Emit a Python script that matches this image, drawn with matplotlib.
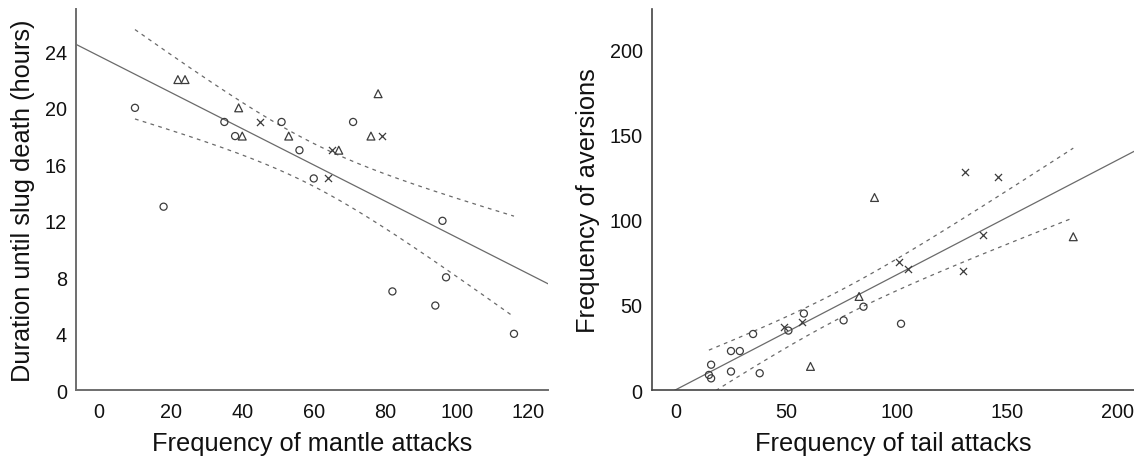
import math
import numpy as np
import matplotlib
matplotlib.use("Agg")
import matplotlib.pyplot as plt

plt.rcParams['font.family'] = ['Liberation Sans', 'DejaVu Sans']

# ---------------- data: left panel ----------------
mantle_circle_x = [10, 18, 35, 38, 51, 56, 60, 71, 96, 97, 82, 94, 116]
mantle_circle_y = [20, 13, 19, 18, 19, 17, 15, 19, 12, 8, 7, 6, 4]
mantle_tri_x = [22, 24, 39, 40, 53, 67, 78, 76]
mantle_tri_y = [22, 22, 20, 18, 18, 17, 21, 18]
mantle_cross_x = [45, 65, 64, 79]
mantle_cross_y = [19, 17, 15, 18]

# ---------------- data: right panel ----------------
tail_circle_x = [16, 15, 16, 25, 29, 25, 35, 38, 51, 58, 76, 85, 102]
tail_circle_y = [15, 9, 7, 23, 23, 11, 33, 10, 35, 45, 41, 49, 39]
tail_tri_x = [61, 83, 180, 90]
tail_tri_y = [14, 55, 90, 113]
tail_cross_x = [49, 57, 101, 105, 130, 139, 131, 146]
tail_cross_y = [37, 40, 75, 71, 70, 91, 128, 125]

left_xticks = [0, 20, 40, 60, 80, 100, 120]
left_yticks = [0, 4, 8, 12, 16, 20, 24]
right_xticks = [0, 50, 100, 150, 200]
right_yticks = [0, 50, 100, 150, 200]

left_xlabel = "Frequency of mantle attacks"
left_ylabel = "Duration until slug death (hours)"
right_xlabel = "Frequency of tail attacks"
right_ylabel = "Frequency of aversions"


def t_quantile(p, df):
    # numeric inverse of the Student t CDF
    c = math.exp(math.lgamma((df + 1) / 2) - math.lgamma(df / 2)) / math.sqrt(df * math.pi)
    grid = np.linspace(0, 10, 200001)
    pdf = c * (1 + grid ** 2 / df) ** (-(df + 1) / 2)
    cdf = 0.5 + np.concatenate([[0], np.cumsum((pdf[1:] + pdf[:-1]) / 2 * np.diff(grid))])
    return float(np.interp(p, cdf, grid))


MK = '#3c3c3c'
LINE = '#6a6a6a'


def panel(ax, groups, xlim, ylim, xticks, yticks, xlabel, ylabel, spine_col, spine_lw):
    xs = np.concatenate([np.asarray(g[0], float) for g in groups])
    ys = np.concatenate([np.asarray(g[1], float) for g in groups])
    n = len(xs)
    slope, icpt = np.polyfit(xs, ys, 1)
    resid = ys - (slope * xs + icpt)
    s = math.sqrt(np.sum(resid ** 2) / (n - 2))
    sxx = np.sum((xs - xs.mean()) ** 2)
    t = t_quantile(0.975, n - 2)

    xl = np.linspace(xlim[0], xlim[1], 200)
    ax.plot(xl, slope * xl + icpt, color=LINE, lw=0.9, zorder=2)
    xc = np.linspace(xs.min(), xs.max(), 200)
    half = t * s * np.sqrt(1 / n + (xc - xs.mean()) ** 2 / sxx)
    yc = slope * xc + icpt
    for sign in (1, -1):
        ax.plot(xc, yc + sign * half, color=LINE, lw=0.9, ls=(0, (3, 3.5)), zorder=2)

    (cx, cy), (tx, ty), (kx, ky) = groups
    ax.scatter(cx, cy, s=26, marker='o', facecolors='none', edgecolors=MK, linewidths=0.9, zorder=3)
    ax.scatter(tx, ty, s=32, marker='^', facecolors='none', edgecolors=MK, linewidths=0.9, zorder=3)
    ax.scatter(kx, ky, s=26, marker='x', color=MK, linewidths=0.9, zorder=3)

    ax.set_xlim(*xlim)
    ax.set_ylim(*ylim)
    ax.set_xticks(xticks)
    ax.set_yticks(yticks)
    for sp in ('top', 'right'):
        ax.spines[sp].set_visible(False)
    for sp in ('left', 'bottom'):
        ax.spines[sp].set_color(spine_col)
        ax.spines[sp].set_linewidth(spine_lw)
    ax.tick_params(length=0, labelsize=14.3, colors='#111111', pad=6.5)
    ax.tick_params(axis='x', pad=8.5)
    ax.set_xlabel(xlabel, fontsize=18.3, color='#111111', labelpad=7)
    ax.set_ylabel(ylabel, fontsize=18.3, color='#111111', labelpad=7)


fig = plt.figure(figsize=(11.34, 4.64), dpi=100)
ax1 = fig.add_axes([0.0670, 0.1567, 0.4162, 0.8218])
ax2 = fig.add_axes([0.5747, 0.1567, 0.4253, 0.8218])

panel(ax1,
      [(mantle_circle_x, mantle_circle_y), (mantle_tri_x, mantle_tri_y), (mantle_cross_x, mantle_cross_y)],
      (-6.5, 125.5), (0, 27), left_xticks, left_yticks, left_xlabel, left_ylabel, '#6e6e6e', 1.4)
panel(ax2,
      [(tail_circle_x, tail_circle_y), (tail_tri_x, tail_tri_y), (tail_cross_x, tail_cross_y)],
      (-10.9, 207.5), (0, 223.5), right_xticks, right_yticks, right_xlabel, right_ylabel, '#444444', 1.2)

fig.savefig("out.png", dpi=100)
